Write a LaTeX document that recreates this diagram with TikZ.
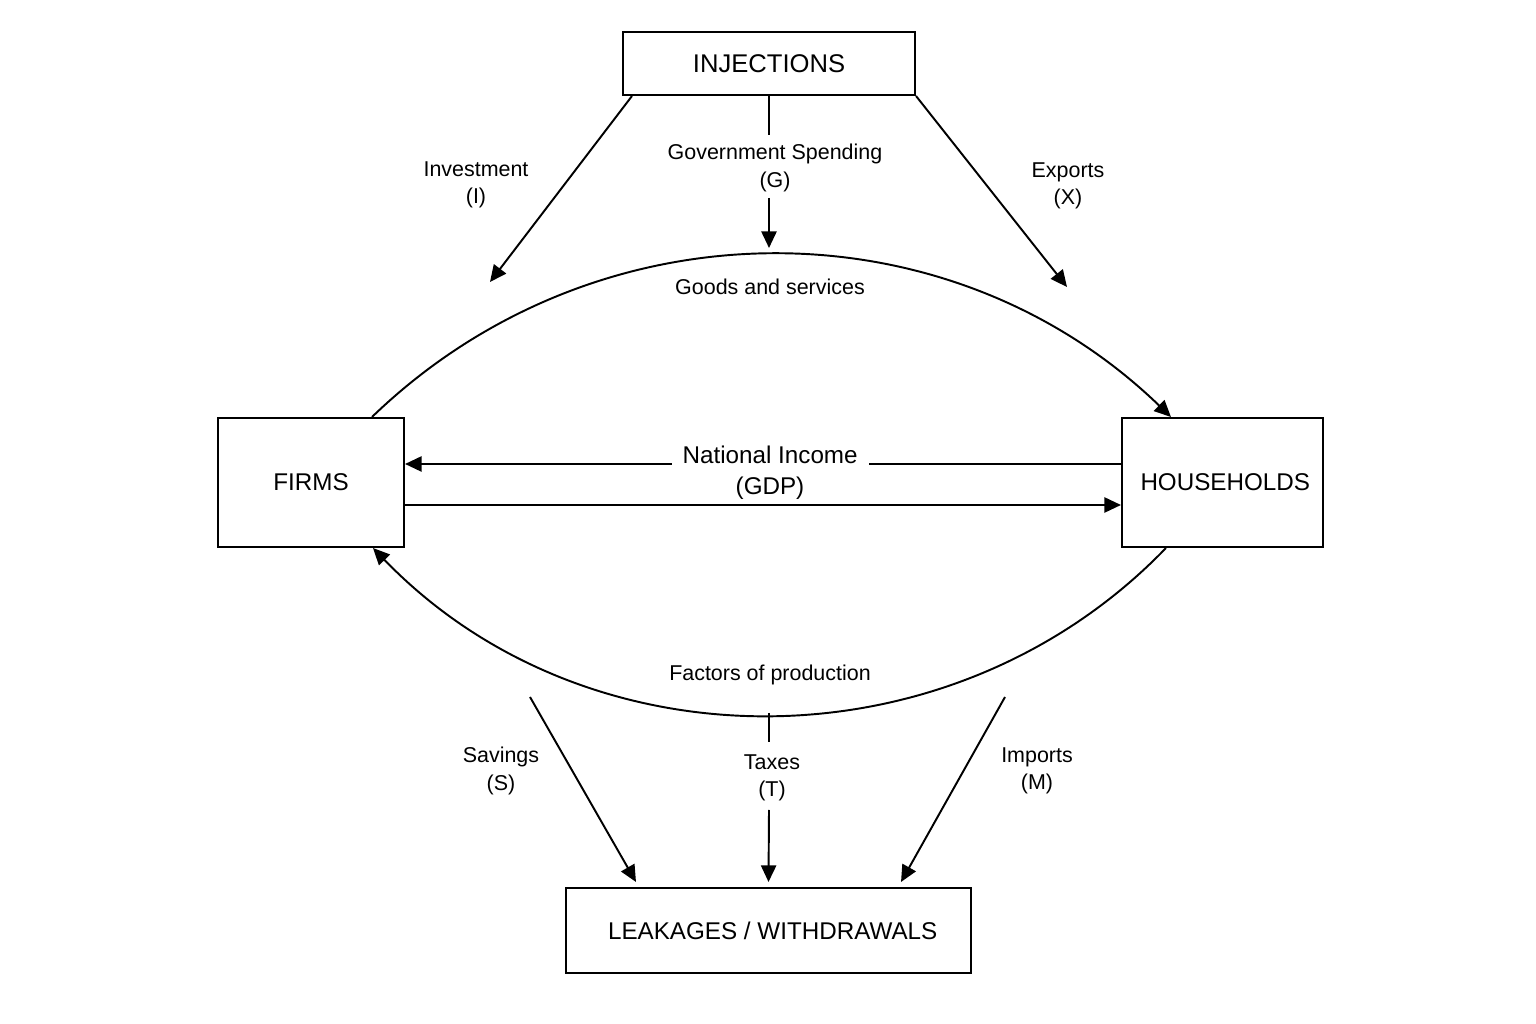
\documentclass[tikz,border=0pt]{standalone}
\usepackage{fontspec}
\setmainfont{Liberation Sans}
\usetikzlibrary{arrows.meta}

\begin{document}
\begin{tikzpicture}[x=1in,y=1in,
  box/.style={draw,line width=1.5pt,inner sep=0pt,font=\fontsize{17.5}{21}\selectfont},
  arr/.style={line width=1.4pt,-{Triangle[length=12pt,width=11pt]}},
  plain/.style={line width=1.4pt},
  lbl/.style={align=center,inner sep=0pt,font=\fontsize{15.5}{20}\selectfont},
  mid/.style={inner sep=0pt,font=\fontsize{17.5}{21}\selectfont}]
  \useasboundingbox (0,0) rectangle (15.36,10.24);

  \node[box,minimum width=2.92in,minimum height=0.63in,font=\fontsize{18.5}{22}\selectfont] (inj) at (7.69,9.605) {INJECTIONS};
  \node[box,minimum width=1.86in,minimum height=1.29in] (firms) at (3.11,5.415) {FIRMS};
  \node[box,minimum width=2.01in,minimum height=1.29in] (hh) at (12.225,5.415) {\hspace{4pt}HOUSEHOLDS};
  \node[box,minimum width=4.05in,minimum height=0.85in] (leak) at (7.685,0.935) {\hspace{6pt}LEAKAGES / WITHDRAWALS};

  \draw[arr] ([xshift=-0.33in]firms.north east) to[out=44,in=136] ([xshift=0.50in]hh.north west);
  \draw[arr] ([xshift=0.45in]hh.south west) to[out=-134,in=-46] ([xshift=-0.32in]firms.south east);
  \node[lbl] (goods) at (7.70,7.37) {Goods and services};
  \node[lbl] (factors) at (7.70,3.49) {Factors of production};

  \draw[arr] ([yshift=0.185in]hh.west) -- ([yshift=0.185in]firms.east)
    node[pos=0.49,anchor=base,fill=white,mid,inner xsep=8pt,inner ysep=2pt] (ni) {National Income};
  \node[mid] (gdp) at (7.70,5.36) {(GDP)};
  \draw[arr] ([yshift=-0.225in]firms.east) -- ([yshift=-0.225in]hh.west);

  \coordinate (itip) at (4.90,7.42);
  \coordinate (xtip) at (10.67,7.37);
  \coordinate (gtop) at (7.69,8.89);
  \coordinate (gbot) at (7.69,8.26);
  \coordinate (gtip) at (7.69,7.76);
  \draw[arr] ([xshift=0.10in]inj.south west) -- (itip);
  \draw[plain] (inj.south) -- (gtop);
  \draw[arr] (gbot) -- (gtip);
  \draw[arr] (inj.south east) -- (xtip);
  \node[lbl] (inv) at (4.76,8.39) {Investment\\(I)};
  \node[lbl] (gov) at (7.75,8.56) {Government Spending\\(G)};
  \node[lbl] (exp) at (10.68,8.38) {Exports\\(X)};

  \coordinate (sfrom) at (5.30,3.27);
  \coordinate (mfrom) at (10.05,3.27);
  \coordinate (ttop) at (7.69,3.11);
  \coordinate (tmid) at (7.69,2.82);
  \coordinate (tbot) at (7.69,2.14);
  \draw[arr] (sfrom) -- ([xshift=0.71in,yshift=0.05in]leak.north west);
  \draw[plain] (ttop) -- (tmid);
  \draw[arr] (tbot) -- ([yshift=0.05in]leak.north);
  \draw[arr] (mfrom) -- ([xshift=-0.71in,yshift=0.05in]leak.north east);
  \node[lbl] (sav) at (5.01,2.53) {Savings\\(S)};
  \node[lbl] (tax) at (7.72,2.46) {Taxes\\(T)};
  \node[lbl] (imp) at (10.37,2.53) {Imports\\(M)};
\end{tikzpicture}
\end{document}
